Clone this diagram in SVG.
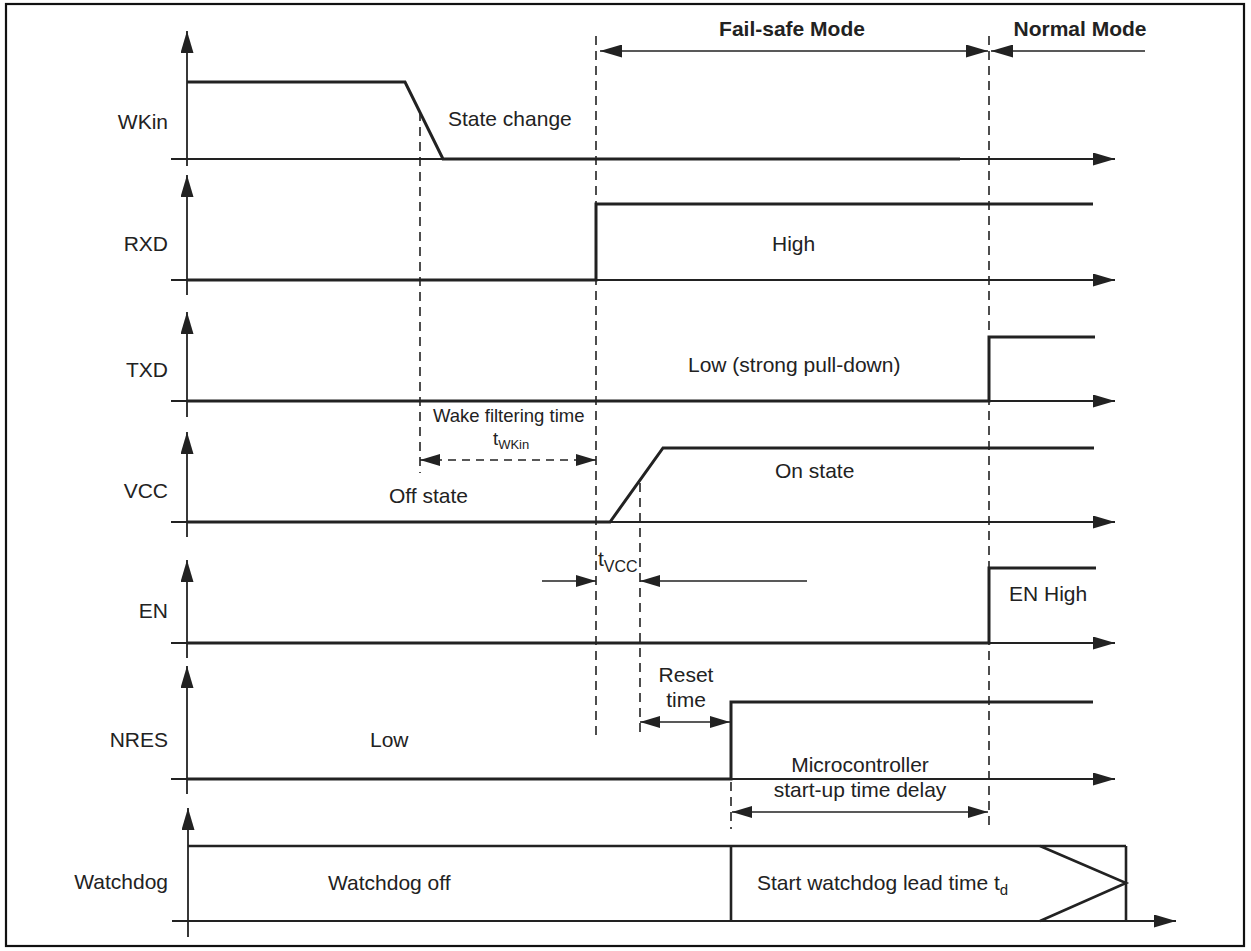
<svg xmlns="http://www.w3.org/2000/svg" width="1251" height="951" viewBox="0 0 1251 951">
<style>
.lbl{font-family:"Liberation Sans",Arial,sans-serif;font-size:21px;fill:#222}
.sm{font-family:"Liberation Sans",Arial,sans-serif;font-size:18.5px;fill:#222}
.bold{font-family:"Liberation Sans",Arial,sans-serif;font-size:21px;font-weight:bold;fill:#222}
.ax{stroke:#222;stroke-width:1.8;fill:none}
.sig{stroke:#222;stroke-width:3;fill:none;stroke-linejoin:miter}
.dash{stroke:#222;stroke-width:1.6;fill:none;stroke-dasharray:9 6}
.dim{stroke:#222;stroke-width:1.6;fill:none}
</style>
<defs>
<marker id="ah" markerUnits="userSpaceOnUse" markerWidth="22" markerHeight="13" refX="22" refY="6.5" orient="auto-start-reverse">
<path d="M0,0 L22,6.5 L0,13 z" fill="#222"/>
</marker>
<marker id="ahs" markerUnits="userSpaceOnUse" markerWidth="20" markerHeight="12" refX="20" refY="6" orient="auto-start-reverse">
<path d="M0,0 L20,6 L0,12 z" fill="#222"/>
</marker>
</defs>
<rect x="6" y="4" width="1238" height="942" fill="#fff" stroke="#111" stroke-width="2.2"/>

<g id="axes">
<line class="ax" x1="187" y1="166" x2="187" y2="31" marker-end="url(#ah)"/>
<line class="ax" x1="171" y1="159" x2="1115" y2="159" marker-end="url(#ah)"/>
<line class="ax" x1="187" y1="295" x2="187" y2="175" marker-end="url(#ah)"/>
<line class="ax" x1="171" y1="280" x2="1115" y2="280" marker-end="url(#ah)"/>
<line class="ax" x1="187" y1="417" x2="187" y2="312" marker-end="url(#ah)"/>
<line class="ax" x1="171" y1="401" x2="1115" y2="401" marker-end="url(#ah)"/>
<line class="ax" x1="187" y1="537" x2="187" y2="432" marker-end="url(#ah)"/>
<line class="ax" x1="171" y1="522" x2="1115" y2="522" marker-end="url(#ah)"/>
<line class="ax" x1="187" y1="658" x2="187" y2="560" marker-end="url(#ah)"/>
<line class="ax" x1="171" y1="643" x2="1115" y2="643" marker-end="url(#ah)"/>
<line class="ax" x1="187" y1="794" x2="187" y2="666" marker-end="url(#ah)"/>
<line class="ax" x1="171" y1="779" x2="1115" y2="779" marker-end="url(#ah)"/>
<line class="ax" x1="188" y1="937" x2="188" y2="808" marker-end="url(#ah)"/>
<line class="ax" x1="172" y1="921" x2="1176" y2="921" marker-end="url(#ah)"/>
</g>

<g id="WKin">
<text class="lbl" x="168" y="129" text-anchor="end">WKin</text>
<polyline class="sig" points="187,82 405,82 443,159 960,159"/>
<text class="lbl" x="448" y="126">State change</text>
</g>

<g id="RXD">
<text class="lbl" x="168" y="251" text-anchor="end">RXD</text>
<polyline class="sig" points="187,280 596,280 596,204 1093,204"/>
<text class="lbl" x="772" y="251">High</text>
</g>

<g id="TXD">
<text class="lbl" x="168" y="377" text-anchor="end">TXD</text>
<polyline class="sig" points="187,401 989,401 989,337 1095,337"/>
<text class="lbl" x="688" y="372">Low (strong pull-down)</text>
</g>

<g id="VCC">
<text class="lbl" x="168" y="498" text-anchor="end">VCC</text>
<polyline class="sig" points="187,522 610,522 663,448 1094,448"/>
<text class="lbl" x="389" y="503">Off state</text>
<text class="lbl" x="775" y="478">On state</text>
</g>

<g id="EN">
<text class="lbl" x="168" y="618" text-anchor="end">EN</text>
<polyline class="sig" points="187,643 989,643 989,568 1096,568"/>
<text class="lbl" x="1009" y="601">EN High</text>
</g>

<g id="NRES">
<text class="lbl" x="168" y="747" text-anchor="end">NRES</text>
<polyline class="sig" points="187,779 731,779 731,702 1093,702"/>
<text class="lbl" x="370" y="747">Low</text>
</g>

<g id="Watchdog">
<text class="lbl" x="168" y="889" text-anchor="end">Watchdog</text>
<line class="sig" x1="188" y1="846" x2="1126" y2="846" style="stroke-width:2.6"/>
<line class="sig" x1="731" y1="846" x2="731" y2="921" style="stroke-width:2.6"/>
<line class="sig" x1="1126" y1="846" x2="1126" y2="921" style="stroke-width:2.6"/>
<polyline class="sig" points="1040,846 1126,883 1040,921" style="stroke-width:2.6"/>
<text class="lbl" x="328" y="890">Watchdog off</text>
<text class="lbl" x="757" y="890">Start watchdog lead time t<tspan font-size="15" dy="5">d</tspan></text>
</g>

<g id="modes">
<text class="bold" x="792" y="36" text-anchor="middle">Fail-safe Mode</text>
<text class="bold" x="1080" y="36" text-anchor="middle">Normal Mode</text>
</g>

<g id="connectors">
<line class="dash" x1="420" y1="112" x2="420" y2="473"/>
<line class="dash" x1="596" y1="36" x2="596" y2="740"/>
<line class="dash" x1="640" y1="483" x2="640" y2="734"/>
<line class="dash" x1="989" y1="36" x2="989" y2="829"/>
<line class="dash" x1="731" y1="782" x2="731" y2="829"/>
<line class="dim" x1="600" y1="51" x2="988" y2="51" marker-start="url(#ah)" marker-end="url(#ah)"/>
<line class="dim" x1="1145" y1="51" x2="991" y2="51" marker-end="url(#ah)"/>
<line class="dim" x1="420" y1="460" x2="596" y2="460" style="stroke-dasharray:8 6" marker-start="url(#ahs)" marker-end="url(#ahs)"/>
<line class="dim" x1="542" y1="581" x2="596" y2="581" marker-end="url(#ahs)"/>
<line class="dim" x1="807" y1="581" x2="640" y2="581" marker-end="url(#ahs)"/>
<line class="dim" x1="640" y1="722" x2="730" y2="722" marker-start="url(#ahs)" marker-end="url(#ahs)"/>
<line class="dim" x1="732" y1="812" x2="988" y2="812" marker-start="url(#ahs)" marker-end="url(#ahs)"/>
</g>

<g id="labels">
<text class="sm" x="433" y="422">Wake filtering time</text>
<text class="sm" x="493" y="445">t<tspan font-size="13" dy="4">WKin</tspan></text>
<text class="lbl" x="598" y="566">t<tspan font-size="16" dy="6">VCC</tspan></text>
<text class="lbl" x="686" y="682" text-anchor="middle">Reset</text>
<text class="lbl" x="686" y="707" text-anchor="middle">time</text>
<text class="lbl" x="860" y="772" text-anchor="middle">Microcontroller</text>
<text class="lbl" x="860" y="797" text-anchor="middle">start-up time delay</text>
</g>
</svg>
